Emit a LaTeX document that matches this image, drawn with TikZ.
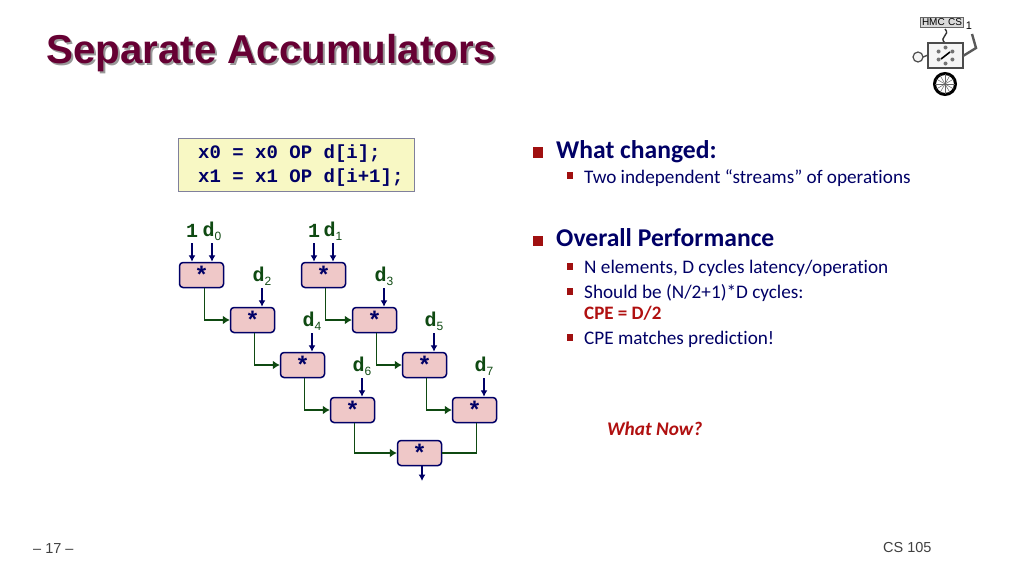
\documentclass[tikz,border=0pt]{standalone}
\usepackage{fontspec}
\usepackage{xcolor}
\usetikzlibrary{arrows.meta}
\setmainfont[Ligatures=NoCommon]{Carlito}
\newfontfamily\arialfont{Liberation Sans}
\newfontfamily\courfont{Liberation Mono}
\definecolor{titlered}{HTML}{660033}
\definecolor{navy}{HTML}{000066}
\definecolor{flowgreen}{HTML}{0F4A12}
\definecolor{bulletred}{HTML}{A01010}
\definecolor{cpered}{HTML}{B01010}
\definecolor{opfill}{HTML}{EFC8C8}
\definecolor{codefill}{HTML}{F8F8C4}
\newcommand{\dlab}[1]{\courfont\bfseries d\raisebox{-4pt}{\arialfont\mdseries\fontsize{12}{12}\selectfont #1}}
\newcommand{\pxfont}[1]{\fontsize{#1}{#1}\selectfont}
\begin{document}
\begin{tikzpicture}[x=1pt,y=-1pt]
      \tikzstyle{opbox}=[draw=navy,fill=opfill,line width=1.5pt,rounded corners=3.5pt,minimum width=44pt,minimum height=25pt,inner sep=0pt,text=navy,font=\courfont\bfseries\pxfont{24}]
      \tikzstyle{inlabel}=[inner sep=0pt,minimum height=24pt,text=flowgreen,font=\courfont\bfseries\pxfont{20}]
      \tikzstyle{inarrow}=[-{Latex[length=6.5pt,width=7pt]},navy,line width=1.4pt]
      \tikzstyle{flow}=[-{Latex[length=7pt,width=9pt]},flowgreen,line width=1.5pt]
      \tikzstyle{heading}=[anchor=base west,inner sep=0pt,text=navy,font=\bfseries\pxfont{25.6}]
      \tikzstyle{subitem}=[anchor=base west,inner sep=0pt,text=navy,font=\pxfont{19.2}]
      \tikzstyle{redtext}=[anchor=base west,inner sep=0pt,text=cpered,font=\bfseries\pxfont{19}]
      \tikzstyle{bigbullet}=[fill=bulletred,inner sep=0pt,minimum size=10.5pt]
      \tikzstyle{smallbullet}=[fill=bulletred,inner sep=0pt,minimum size=6.5pt]
      \tikzstyle{footer}=[anchor=base west,inner sep=0pt,text=black!75,font=\arialfont\pxfont{14.5}]
      \useasboundingbox (0,0) rectangle (1024,576);

      % title
      \node[anchor=base west,inner sep=0pt,text=black!40,font=\arialfont\bfseries\pxfont{40.3}] (titleshadow) at (48,65) {Separate Accumulators};
      \node[anchor=base west,inner sep=0pt,text=titlered,font=\arialfont\bfseries\pxfont{40.3}] (title) at (46,63) {Separate Accumulators};

      % logo
      \node[draw=black!60,fill=black!15,inner sep=1.5pt,font=\arialfont\pxfont{10}] (banner) at (942,22) {HMC\,\,CS};
      \node[inner sep=0pt,font=\arialfont\pxfont{11}] (bannerone) at (969,26) {1};
      \draw[black!80,line width=1.4pt] (945,29) .. controls (951,35) and (938,37) .. (945,43);
      \draw[black!70,line width=1.2pt,fill=black!4] (928,43) rectangle (963,68);
      \foreach \a in {30,90,150,210,270,330}
        \fill[black!55] (945.5,55.5) ++(\a:8) circle (2);
      \draw[black,line width=1.6pt] (941,59) -- (950,52);
      \draw[black!70,line width=1.4pt] (928,55) -- (923,57);
      \draw[black!70,line width=1.2pt,fill=black!4] (918,57) circle (5);
      \draw[black!65,line width=2.4pt] (963,56) -- (976,48) -- (972,34);
      \draw[black,line width=3pt] (945,84) circle (10.5);
      \foreach \a in {0,30,...,150}
        \draw[black!60,line width=.5pt] (945,84) ++(\a:10) -- ++(\a+180:20);

      % code
      \node[draw=black!45!navy!50,fill=codefill,line width=1.5pt,minimum width=236pt,minimum height=53pt,inner sep=0pt] (codebox) at (296.5,165) {};
      \node[anchor=base west,inner sep=0pt,text=navy,font=\courfont\bfseries\pxfont{19}] (code1) at (198,158) {x0 = x0 OP d[i];};
      \node[anchor=base west,inner sep=0pt,text=navy,font=\courfont\bfseries\pxfont{19}] (code2) at (198,182) {x1 = x1 OP d[i+1];};

      % operations
      \node[opbox] (n1) at (201.5,275) {*};
      \node[opbox] (n2) at (252.5,320) {*};
      \node[opbox] (n3) at (302.5,365) {*};
      \node[opbox] (n4) at (352.5,410) {*};
      \node[opbox] (n5) at (323.5,275) {*};
      \node[opbox] (n6) at (374.5,320) {*};
      \node[opbox] (n7) at (424.5,365) {*};
      \node[opbox] (n8) at (474.5,410) {*};
      \node[opbox] (n9) at (419.5,453) {*};

      % inputs
      \node[inlabel] (one0) at (192,231) {1};
      \node[inlabel] (d0) at (212,231) {\dlab{0}};
      \node[inlabel] (one1) at (314,231) {1};
      \node[inlabel] (d1) at (333,231) {\dlab{1}};
      \node[inlabel] (d2) at (262,276) {\dlab{2}};
      \node[inlabel] (d3) at (384,276) {\dlab{3}};
      \node[inlabel] (d4) at (312,321) {\dlab{4}};
      \node[inlabel] (d5) at (434,321) {\dlab{5}};
      \node[inlabel] (d6) at (362,366) {\dlab{6}};
      \node[inlabel] (d7) at (484,366) {\dlab{7}};
      \coordinate (out) at (422,481);

      \draw[inarrow] (one0.south) -- (one0.south |- n1.north);
      \draw[inarrow] (d0.south) -- (d0.south |- n1.north);
      \draw[inarrow] (one1.south) -- (one1.south |- n5.north);
      \draw[inarrow] (d1.south) -- (d1.south |- n5.north);
      \draw[inarrow] (d2.south) -- (d2.south |- n2.north);
      \draw[inarrow] (d3.south) -- (d3.south |- n6.north);
      \draw[inarrow] (d4.south) -- (d4.south |- n3.north);
      \draw[inarrow] (d5.south) -- (d5.south |- n7.north);
      \draw[inarrow] (d6.south) -- (d6.south |- n4.north);
      \draw[inarrow] (d7.south) -- (d7.south |- n8.north);
      \draw[inarrow] (out |- n9.south) -- (out);

      \draw[flow] ([xshift=3pt]n1.south) |- (n2.west);
      \draw[flow] ([xshift=2pt]n2.south) |- (n3.west);
      \draw[flow] ([xshift=2pt]n3.south) |- (n4.west);
      \draw[flow] ([xshift=2pt]n5.south) |- (n6.west);
      \draw[flow] ([xshift=2pt]n6.south) |- (n7.west);
      \draw[flow] ([xshift=2pt]n7.south) |- (n8.west);
      \draw[flow] ([xshift=2pt]n4.south) |- (n9.west);
      \draw[flowgreen,line width=1.5pt] ([xshift=2pt]n8.south) |- (n9.east);

      % bullets
      \node[bigbullet] (b1) at (538,152.5) {};
      \node[heading] (h1) at (556,158) {What changed:};
      \node[smallbullet] (s1) at (570,175.5) {};
      \node[subitem] (t1) at (584,183) {Two independent “streams” of operations};
      \node[bigbullet] (b2) at (538,241) {};
      \node[heading] (h2) at (556,246) {Overall Performance};
      \node[smallbullet] (s2) at (570,266.5) {};
      \node[subitem] (t2) at (584,273) {N elements, D cycles latency/operation};
      \node[smallbullet] (s3) at (570,291.5) {};
      \node[subitem] (t3) at (584,298) {Should be (N/2+1)*D cycles:};
      \node[redtext] (t4) at (584,319) {CPE = D/2};
      \node[smallbullet] (s4) at (570,337.5) {};
      \node[subitem] (t5) at (584,344) {CPE matches prediction!};
      \node[redtext,font=\bfseries\itshape\pxfont{19.3}] (whatnow) at (607,435) {What Now?};

      % footer
      \node[footer] (page) at (33,553) {– 17 –};
      \node[footer] (course) at (883,552) {CS 105};
    \end{tikzpicture}
\end{document}
